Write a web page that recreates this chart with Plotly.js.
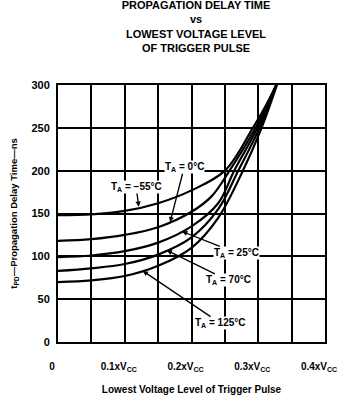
<!DOCTYPE html>
<html>
<head>
<meta charset="utf-8">
<script src="https://cdn.plot.ly/plotly-3.0.1.min.js"></script>
<style>html,body{margin:0;padding:0;background:#fff;}#chart{width:351px;height:396px;}</style>
</head>
<body>
<div id="chart"></div>
<script>
// Data (x in multiples of Vcc, y in ns)
const seriesNames = ["T_A = -55°C", "T_A = 0°C", "T_A = 25°C", "T_A = 70°C", "T_A = 125°C"];
const xM55 = [0, 0.05, 0.1, 0.15, 0.2, 0.25, 0.292, 0.31, 0.327];
const yM55 = [148, 149, 153, 162, 177, 200, 250, 274, 300];
const x0 = [0, 0.05, 0.1, 0.15, 0.2, 0.23, 0.257, 0.296, 0.327];
const y0 = [118, 120, 125, 134, 152, 170, 200, 250, 300];
const x25 = [0, 0.05, 0.1, 0.15, 0.2, 0.24, 0.264, 0.299, 0.327];
const y25 = [99, 101, 106, 116, 135, 162, 200, 250, 300];
const x70 = [0, 0.05, 0.1, 0.15, 0.2, 0.24, 0.27, 0.302, 0.327];
const y70 = [83, 86, 91, 102, 122, 155, 200, 250, 300];
const x125 = [0, 0.05, 0.1, 0.15, 0.2, 0.24, 0.277, 0.305, 0.328];
const y125 = [70, 72, 77, 89, 110, 145, 200, 250, 300];

const xTickVals = [0, 0.1, 0.2, 0.3, 0.4];
const xTickText = ["0", "0.1xV<sub>CC</sub>", "0.2xV<sub>CC</sub>", "0.3xV<sub>CC</sub>", "0.4xV<sub>CC</sub>"];
const yTickVals = [0, 50, 100, 150, 200, 250, 300];
const yTickText = ["0", "50", "100", "150", "200", "250", "300"];

// label positions: [text, tipX, tipY, textX, textY]
const labels = [
  ["T<sub>A</sub> = −55°C", 0.121, 158, 0.117, 181],
  ["T<sub>A</sub> = 0°C", 0.168, 140, 0.189, 204],
  ["T<sub>A</sub> = 25°C", 0.186, 129, 0.267, 104],
  ["T<sub>A</sub> = 70°C", 0.163, 107, 0.255, 72],
  ["T<sub>A</sub> = 125°C", 0.127, 83, 0.243, 22]
];

const xs = [xM55, x0, x25, x70, x125];
const ys = [yM55, y0, y25, y70, y125];
const FONT = "Liberation Sans, Arial, sans-serif";

const traces = xs.map((x, i) => ({
  x: x, y: ys[i], type: "scatter", mode: "lines", name: seriesNames[i],
  line: {color: "#000", width: 2.2, shape: "spline", smoothing: 1.0},
  hoverinfo: "skip"
}));

const annotations = labels.map(l => ({
  text: "<b>" + l[0] + "</b>", x: l[1], y: l[2], ax: l[3], ay: l[4],
  xref: "x", yref: "y", axref: "x", ayref: "y",
  showarrow: true, arrowhead: 2, arrowsize: 0.8, arrowwidth: 1.3, arrowcolor: "#000",
  font: {family: FONT, size: 10, color: "#000"},
  bgcolor: "#fff", borderpad: 0, standoff: 0
}));

const layout = {
  width: 351, height: 396,
  margin: {l: 58, r: 26, t: 85, b: 54},
  paper_bgcolor: "#fff", plot_bgcolor: "#fff",
  showlegend: false,
  font: {family: FONT, color: "#000"},
  title: {
    text: "<b>PROPAGATION DELAY TIME<br>vs<br>LOWEST VOLTAGE LEVEL<br>OF TRIGGER PULSE</b>",
    font: {family: FONT, size: 11, color: "#000"},
    x: 196 / 351, xref: "container", xanchor: "center",
    y: 1 - 9 / 396, yref: "container", yanchor: "top"
  },
  xaxis: {
    range: [0, 0.4], tickvals: xTickVals, ticktext: xTickText,
    showgrid: true, gridcolor: "#000", gridwidth: 2,
    minor: {dtick: 0.05, tick0: 0, showgrid: true, gridcolor: "#000", gridwidth: 2, ticks: ""},
    showline: true, linecolor: "#000", linewidth: 2, mirror: true,
    zeroline: false, ticks: "", ticklabelstandoff: 14, ticklabelshift: -6,
    tickfont: {family: FONT, size: 10, color: "#000", weight: "bold"},
    title: {text: "<b>Lowest Voltage Level of Trigger Pulse</b>", font: {family: FONT, size: 10, color: "#000"}, standoff: 14}
  },
  yaxis: {
    range: [0, 300], tickvals: yTickVals, ticktext: yTickText,
    showgrid: true, gridcolor: "#000", gridwidth: 2,
    showline: true, linecolor: "#000", linewidth: 2, mirror: true,
    zeroline: false, ticks: "", ticklabelstandoff: 4,
    tickfont: {family: FONT, size: 11, color: "#000", weight: "bold"},
    title: {text: "<b>t<sub>PD</sub>—Propagation Delay Time—ns</b>", font: {family: FONT, size: 9.5, color: "#000"}, standoff: 12}
  },
  annotations: annotations
};

Plotly.newPlot("chart", traces, layout, {staticPlot: true, displayModeBar: false});
</script>
</body>
</html>
